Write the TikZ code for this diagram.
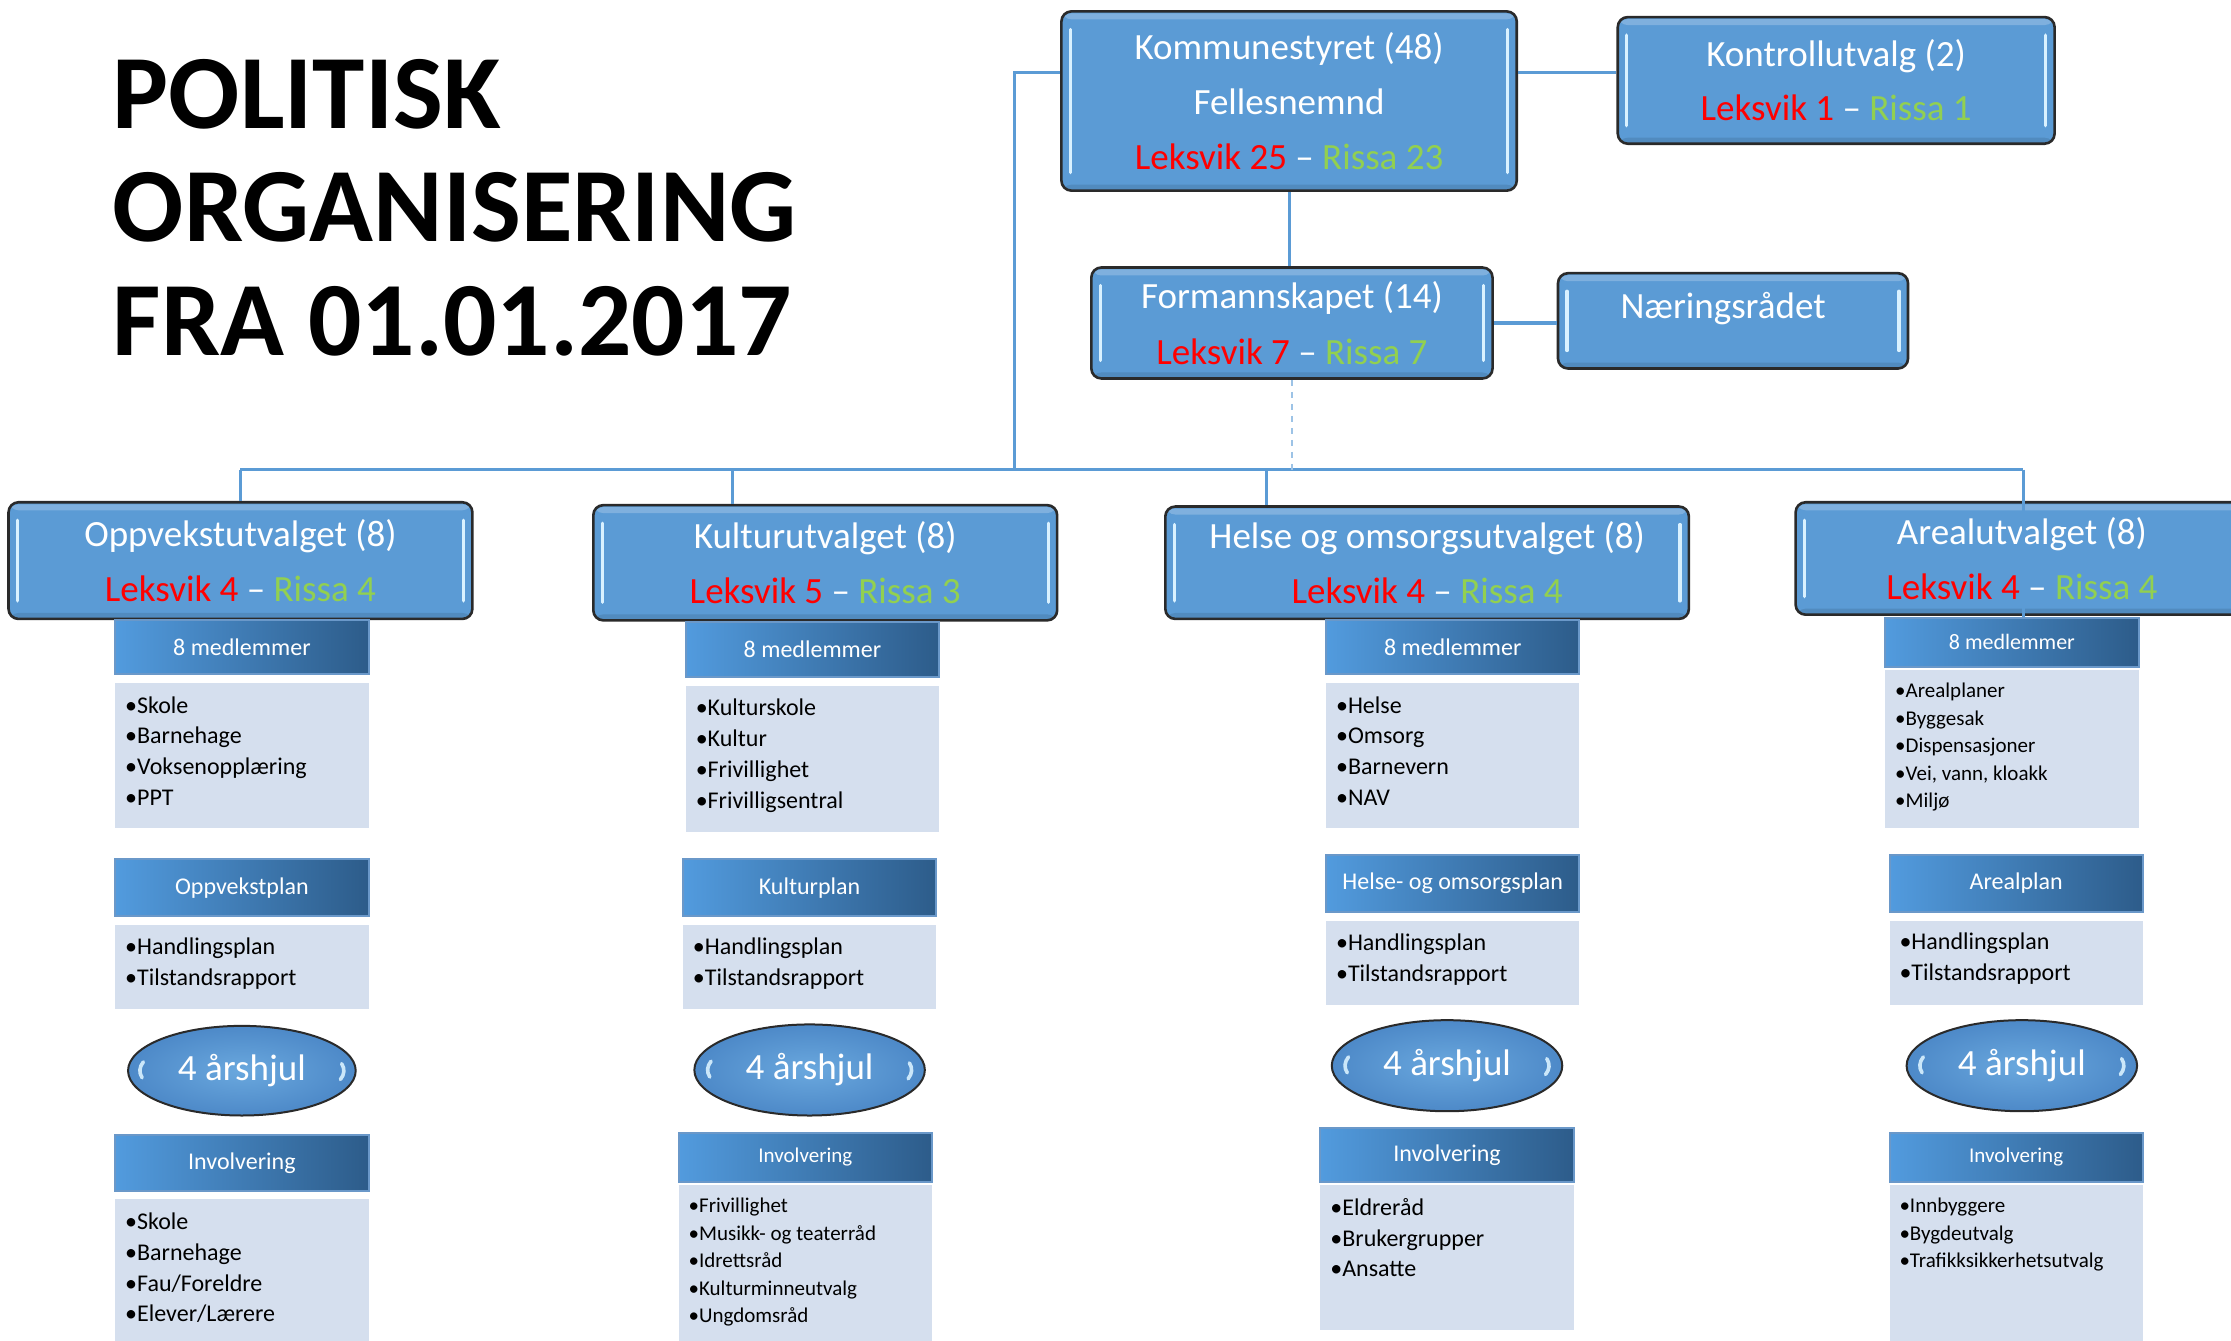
\documentclass[tikz,border=0pt]{standalone}
\usepackage{fontspec}
\setmainfont{Carlito}
\usetikzlibrary{shapes.geometric,calc}
\definecolor{boxblue}{HTML}{5B9BD5}
\definecolor{boxedge}{HTML}{2A2A2A}
\definecolor{hdrL}{HTML}{529BDE}
\definecolor{hdrR}{HTML}{2D5C8A}
\definecolor{hdrEdge}{HTML}{6A98C9}
\definecolor{lstfill}{HTML}{D5DFEE}
\definecolor{lred}{HTML}{FF0000}
\definecolor{lgreen}{HTML}{92D050}
\definecolor{connblue}{HTML}{5B9BD5}
\definecolor{dashblue}{HTML}{9DC3E6}
\definecolor{glint}{HTML}{D9F1FF}
\definecolor{wheelin}{HTML}{6AA8DE}
\definecolor{wheelout}{HTML}{4D89C8}
\def\U{0.7114pt}
\newcommand\mkbox[6]{\node[#1, minimum width={(#5-#3)*\U}, minimum height={(#6-#4)*\U}] (#2) at ({(#3+#5)/2},{(#4+#6)/2})}
\newcommand\LR[1]{\textcolor{lred}{Leksvik #1}}
\newcommand\RS[1]{\textcolor{lgreen}{Rissa #1}}
\tikzset{
 bigbox/.style={rectangle, rounded corners=5pt, draw=boxedge, line width=1.3pt, fill=boxblue,
   text=white, align=center, inner sep=0pt, font=\fontsize{18.5}{27.7}\selectfont,
   path picture={
     \fill[white,opacity=0.22] ([yshift=-1pt]path picture bounding box.north west) rectangle ([yshift=-4pt]path picture bounding box.north east);
     \fill[black,opacity=0.10] ([yshift=3pt]path picture bounding box.south west) rectangle (path picture bounding box.south east);
     \draw[glint, line width=1.6pt, line cap=round] ([xshift=4.5pt,yshift=-9pt]path picture bounding box.north west) -- ([xshift=4.5pt,yshift=9pt]path picture bounding box.south west);
     \draw[glint, line width=1.6pt, line cap=round] ([xshift=-4.5pt,yshift=-9pt]path picture bounding box.north east) -- ([xshift=-4.5pt,yshift=9pt]path picture bounding box.south east);
   }},
 hdr/.style={rectangle, draw=hdrEdge, line width=1pt, left color=hdrL, right color=hdrR,
   text=white, inner sep=0pt, font=\fontsize{12}{14}\selectfont},
 hdrsm/.style={hdr, font=\fontsize{10.5}{12.5}\selectfont},
 lstbox/.style={rectangle, fill=lstfill, draw=none, inner sep=0pt},
 lsttxt/.style={anchor=north west, align=left, inner sep=0pt, text=black, font=\fontsize{12}{15.4}\selectfont},
 lstsm/.style={lsttxt, font=\fontsize{10.5}{13.7}\selectfont},
 wheel/.style={ellipse, draw=boxedge, line width=1pt, inner color=wheelin, outer color=wheelout,
   text=white, inner sep=0pt, font=\fontsize{18.5}{22}\selectfont,
   path picture={
     \draw[glint, line width=1.8pt, line cap=round, opacity=0.9] ($(path picture bounding box.center)+(165:51pt and 17pt)$) arc[start angle=165, end angle=192, x radius=51pt, y radius=17pt];
     \draw[glint, line width=1.8pt, line cap=round, opacity=0.9] ($(path picture bounding box.center)+(-15:51pt and 17pt)$) arc[start angle=-15, end angle=12, x radius=51pt, y radius=17pt];
   }},
 titl/.style={anchor=base west, inner sep=0pt, text=black, font=\bfseries\fontsize{52.7}{57}\selectfont},
 link/.style={draw=connblue, line width=1.6pt},
 dashlink/.style={draw=dashblue, line width=0.8pt, dash pattern=on 3pt off 3pt},
}
\begin{document}
\begin{tikzpicture}[x=0.7114pt,y=-0.7114pt]
\useasboundingbox (0,0) rectangle (1568,942);
\clip (0,0) rectangle (1568,942);
\fill[white] (0,0) rectangle (1568,942);

% title
\node[titl] (t1) at (79,90) {POLITISK};
\node[titl] (t2) at (79,170) {ORGANISERING};
\node[titl] (t3) at (79,250) {FRA 01.01.2017};

% top boxes
\mkbox{bigbox}{ks}{746}{8}{1066}{134} {Kommunestyret (48)\\Fellesnemnd\\\LR{25} – \RS{23}};
\mkbox{bigbox, font=\fontsize{18.5}{26.9}\selectfont}{kk}{1137}{12}{1444}{101} {Kontrollutvalg (2)\\\LR{1} – \RS{1}};
\mkbox{bigbox}{fs}{767}{188}{1049}{266} {Formannskapet (14)\\\LR{7} – \RS{7}};
\mkbox{bigbox}{nr}{1095}{192}{1341}{259} {};
\node[text=white, inner sep=0pt, font=\fontsize{18.5}{22}\selectfont] (nrt) at (1211,217) {Næringsrådet};

% committees
\mkbox{bigbox}{c1}{6}{353}{332}{435} {Oppvekstutvalget (8)\\\LR{4} – \RS{4}};
\mkbox{bigbox}{c2}{417}{355}{743}{436} {Kulturutvalget (8)\\\LR{5} – \RS{3}};
\mkbox{bigbox}{c3}{819}{356}{1187}{435} {Helse og omsorgsutvalget (8)\\\LR{4} – \RS{4}};
\mkbox{bigbox}{c4}{1262}{353}{1580}{432} {Arealutvalget (8)\\\LR{4} – \RS{4}};

% column 1
\mkbox{hdr}{h11}{81}{436}{259}{474} {8 medlemmer};
\mkbox{lstbox}{l11}{81}{480}{259}{582} {};
\node[lsttxt] (x11) at ([shift={(7,6)}]l11.north west) {\strut•Skole\\•Barnehage\\•Voksenopplæring\\•PPT};
\mkbox{hdr}{h12}{81}{604}{259}{644} {Oppvekstplan};
\mkbox{lstbox}{l12}{81}{650}{259}{709} {};
\node[lsttxt] (x12) at ([shift={(7,6)}]l12.north west) {\strut•Handlingsplan\\•Tilstandsrapport};
\mkbox{wheel}{e1}{90}{721}{250}{784} {4 årshjul};
\mkbox{hdr}{h13}{81}{798}{259}{837} {Involvering};
\mkbox{lstbox}{l13}{81}{843}{259}{950} {};
\node[lsttxt] (x13) at ([shift={(7,6)}]l13.north west) {\strut•Skole\\•Barnehage\\•Fau/Foreldre\\•Elever/Lærere};

% column 2
\mkbox{hdr}{h21}{482}{437}{660}{476} {8 medlemmer};
\mkbox{lstbox}{l21}{482}{482}{660}{585} {};
\node[lsttxt] (x21) at ([shift={(7,6)}]l21.north west) {\strut•Kulturskole\\•Kultur\\•Frivillighet\\•Frivilligsentral};
\mkbox{hdr}{h22}{480}{604}{658}{644} {Kulturplan};
\mkbox{lstbox}{l22}{480}{650}{658}{709} {};
\node[lsttxt] (x22) at ([shift={(7,6)}]l22.north west) {\strut•Handlingsplan\\•Tilstandsrapport};
\mkbox{wheel}{e2}{488}{720}{650}{784} {4 årshjul};
\mkbox{hdrsm}{h23}{477}{796}{655}{831} {Involvering};
\mkbox{lstbox}{l23}{477}{833}{655}{950} {};
\node[lstsm] (x23) at ([shift={(7,6)}]l23.north west) {\strut•Frivillighet\\•Musikk- og teaterråd\\•Idrettsråd\\•Kulturminneutvalg\\•Ungdomsråd};

% column 3
\mkbox{hdr}{h31}{932}{436}{1110}{474} {8 medlemmer};
\mkbox{lstbox}{l31}{932}{480}{1110}{582} {};
\node[lsttxt] (x31) at ([shift={(7,6)}]l31.north west) {\strut•Helse\\•Omsorg\\•Barnevern\\•NAV};
\mkbox{hdr}{h32}{932}{601}{1110}{641} {Helse- og omsorgsplan};
\mkbox{lstbox}{l32}{932}{647}{1110}{706} {};
\node[lsttxt] (x32) at ([shift={(7,6)}]l32.north west) {\strut•Handlingsplan\\•Tilstandsrapport};
\mkbox{wheel}{e3}{936}{717}{1098}{781} {4 årshjul};
\mkbox{hdr}{h33}{928}{793}{1106}{831} {Involvering};
\mkbox{lstbox}{l33}{928}{833}{1106}{935} {};
\node[lsttxt] (x33) at ([shift={(7,6)}]l33.north west) {\strut•Eldreråd\\•Brukergrupper\\•Ansatte};

% column 4
\mkbox{hdr, font=\fontsize{11}{13}\selectfont}{h41}{1325}{434}{1503}{469} {8 medlemmer};
\mkbox{lstbox}{l41}{1325}{471}{1503}{582} {};
\node[lstsm] (x41) at ([shift={(7,6)}]l41.north west) {\strut•Arealplaner\\•Byggesak\\•Dispensasjoner\\•Vei, vann, kloakk\\•Miljø};
\mkbox{hdr}{h42}{1328}{601}{1506}{641} {Arealplan};
\mkbox{lstbox}{l42}{1328}{647}{1506}{706} {};
\node[lsttxt] (x42) at ([shift={(7,5)}]l42.north west) {\strut•Handlingsplan\\•Tilstandsrapport};
\mkbox{wheel}{e4}{1340}{717}{1502}{781} {4 årshjul};
\mkbox{hdrsm}{h43}{1328}{796}{1506}{831} {Involvering};
\mkbox{lstbox}{l43}{1328}{833}{1506}{950} {};
\node[lstsm] (x43) at ([shift={(7,6)}]l43.north west) {\strut•Innbyggere\\•Bygdeutvalg\\•Trafikksikkerhetsutvalg};

% connectors
\coordinate (jks) at (713,51);
\coordinate (busL) at (169,330);
\coordinate (j2) at (515,330);
\coordinate (j3) at (890,330);
\coordinate (busR) at (1422,330);
\draw[link] (ks.west |- jks) -- (jks) -- (jks |- busL);
\draw[link] (busL) -- (busR);
\draw[link] (busL) -- (c1.north);
\draw[link] (j2) -- (j2 |- c2.north);
\draw[link] (j3) -- (j3 |- c3.north);
\draw[link] (busR) -- (busR |- h41.north);
\draw[link] (ks.east |- jks) -- (kk.west |- jks);
\draw[link] (ks.south) -- (ks.south |- fs.north);
\draw[link] (fs.east) -- (fs.east -| nr.west);
\draw[dashlink] (fs.south) -- (fs.south |- busL);
\end{tikzpicture}
\end{document}
